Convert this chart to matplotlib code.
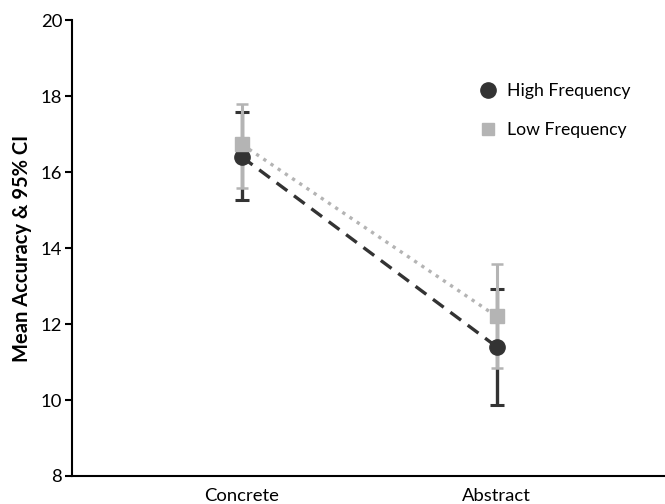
import matplotlib.pyplot as plt
from matplotlib.lines import Line2D

plt.rcParams["font.family"] = ["Lato", "DejaVu Sans"]

conditions = ["Concrete", "Abstract"]
high_mean = [16.40, 11.40]
high_lo = [15.27, 9.88]
high_hi = [17.57, 12.92]
low_mean = [16.73, 12.20]
low_lo = [15.58, 10.85]
low_hi = [17.80, 13.58]

DARK = "#333333"
GREY = "#b4b4b4"

fig = plt.figure(figsize=(6.65, 5.04), dpi=100)
ax = fig.add_axes([0.108, 0.0556, 0.892, 0.9044])
x = list(range(len(conditions)))

ax.errorbar(x, high_mean,
            yerr=[[m - l for m, l in zip(high_mean, high_lo)],
                  [h - m for m, h in zip(high_mean, high_hi)]],
            fmt="none", ecolor=DARK, elinewidth=2.4, capsize=5, capthick=2.2, zorder=2)
ax.errorbar(x, low_mean,
            yerr=[[m - l for m, l in zip(low_mean, low_lo)],
                  [h - m for m, h in zip(low_mean, low_hi)]],
            fmt="none", ecolor=GREY, elinewidth=2.2, capsize=4, capthick=1.8, zorder=3)
ax.plot(x, high_mean, ls=(0, (4, 2.5)), color=DARK, lw=2.4, zorder=4)
ax.plot(x, low_mean, ls=(0, (1, 1.6)), color=GREY, lw=2.4, zorder=4)
ax.plot(x, high_mean, "o", color=DARK, ms=11, zorder=5)
ax.plot(x, low_mean, "s", color=GREY, ms=10, zorder=6)

ax.set_xlim(-0.667, 1.66)
ax.set_ylim(8, 20)
ax.set_yticks(range(8, 21, 2))
ax.set_xticks(x)
ax.set_xticklabels(conditions)
ax.tick_params(axis="x", length=0, labelsize=13.3, pad=9)
ax.tick_params(axis="y", length=5, width=1.5, labelsize=13.3, pad=2)
ax.set_ylabel("Mean Accuracy & 95% CI", fontsize=14.5, fontweight="bold", labelpad=6)
for s in ["top", "right"]:
    ax.spines[s].set_visible(False)
for s in ["left", "bottom"]:
    ax.spines[s].set_linewidth(1.5)

handles = [
    Line2D([], [], marker="o", color=DARK, ls="none", ms=11),
    Line2D([], [], marker="s", color=GREY, ls="none", ms=9),
]
ax.legend(handles, ["High Frequency", "Low Frequency"], loc="upper left",
          bbox_to_anchor=(0.645, 0.896), frameon=False, fontsize=12.7,
          handletextpad=0.1, labelspacing=1.3)

fig.savefig("out.png", dpi=100)
